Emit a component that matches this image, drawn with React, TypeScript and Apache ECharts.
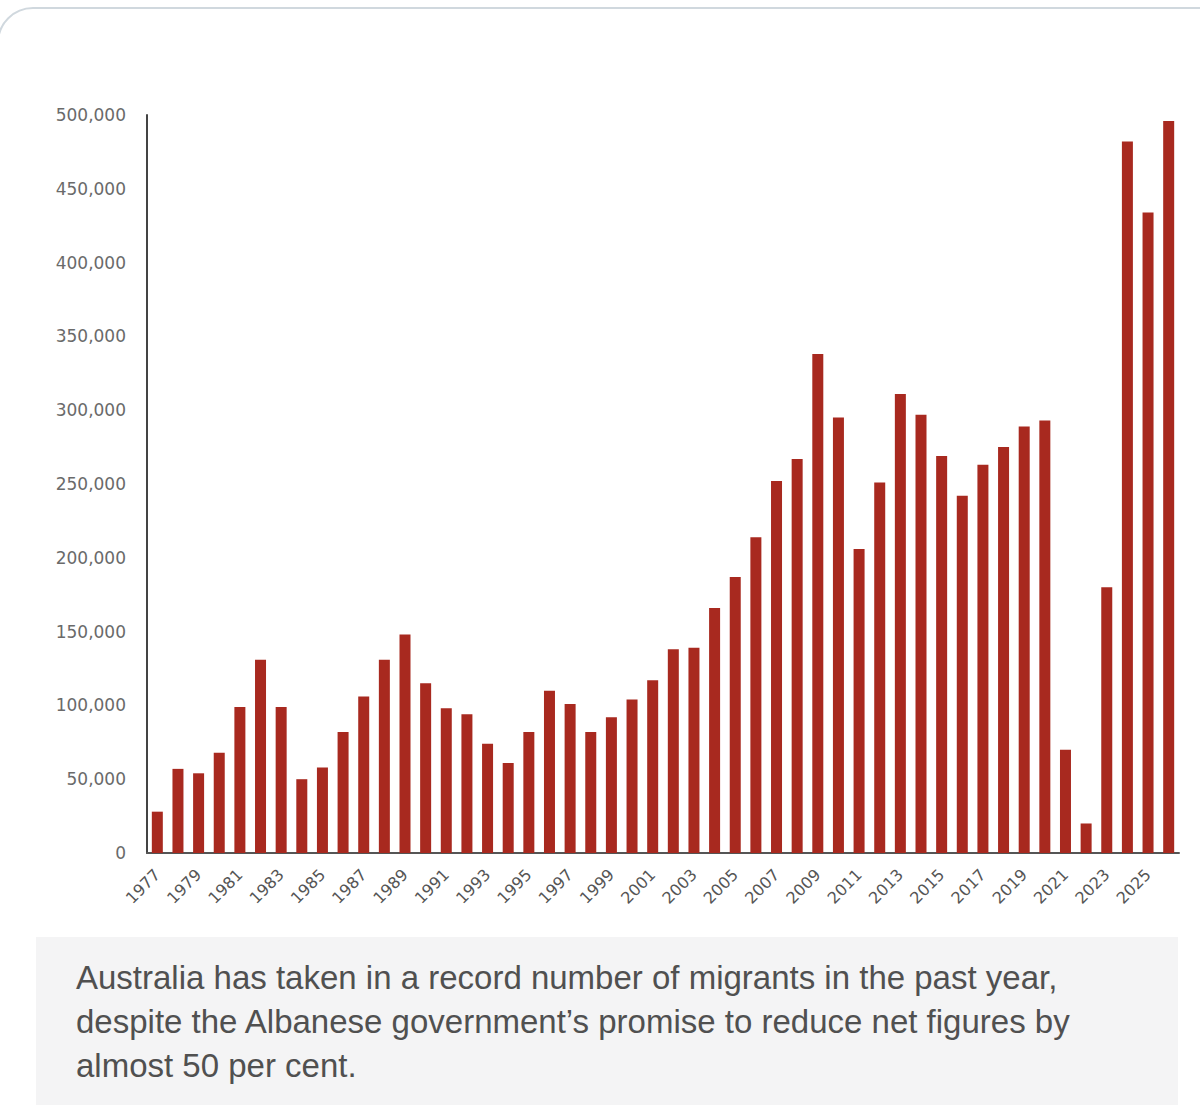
import React, { useEffect, useRef } from "react";
import * as echarts from "echarts";

const years: string[] = [
  "1977", "1978", "1979", "1980", "1981", "1982", "1983", "1984", "1985", "1986",
  "1987", "1988", "1989", "1990", "1991", "1992", "1993", "1994", "1995", "1996",
  "1997", "1998", "1999", "2000", "2001", "2002", "2003", "2004", "2005", "2006",
  "2007", "2008", "2009", "2010", "2011", "2012", "2013", "2014", "2015", "2016",
  "2017", "2018", "2019", "2020", "2021", "2022", "2023", "2024", "2025", "2026",
];

const netMigration: number[] = [
  28000, 57000, 54000, 68000, 99000, 131000, 99000, 50000, 58000, 82000,
  106000, 131000, 148000, 115000, 98000, 94000, 74000, 61000, 82000, 110000,
  101000, 82000, 92000, 104000, 117000, 138000, 139000, 166000, 187000, 214000,
  252000, 267000, 338000, 295000, 206000, 251000, 311000, 297000, 269000, 242000,
  263000, 275000, 289000, 293000, 70000, 20000, 180000, 482000, 434000, 496000,
];

const yMin = 0;
const yMax = 500000;
const yStep = 50000;

const captionLines: string[] = [
  "Australia has taken in a record number of migrants in the past year,",
  "despite the Albanese government\u2019s promise to reduce net figures by",
  "almost 50 per cent.",
];

function Chart() {
  const ref = useRef<HTMLDivElement | null>(null);
  useEffect(() => {
    if (!ref.current) return;
    const chart = echarts.init(ref.current, undefined, { renderer: "svg" });
    chart.setOption({
      animation: false,
      grid: { left: 147, top: 115, width: 1032, height: 738, containLabel: false },
      xAxis: {
        type: "category",
        data: years,
        axisLine: { show: true, lineStyle: { color: "#555", width: 2 } },
        axisTick: { show: false },
        axisLabel: {
          interval: 1,
          rotate: 45,
          margin: 19,
          fontFamily: "DejaVu Sans",
          fontSize: 16,
          color: "#555",
        },
        splitLine: { show: false },
      },
      yAxis: {
        type: "value",
        min: yMin,
        max: yMax,
        interval: yStep,
        axisLine: { show: true, lineStyle: { color: "#444", width: 2 } },
        axisTick: { show: false },
        splitLine: { show: false },
        axisLabel: {
          margin: 21,
          fontFamily: "DejaVu Sans",
          fontSize: 17,
          color: "#6a6a6a",
          formatter: (v: number) => v.toLocaleString("en-US"),
        },
      },
      series: [
        {
          type: "bar",
          data: netMigration,
          barWidth: 11,
          itemStyle: { color: "#a8291f" },
        },
      ],
    });
    return () => chart.dispose();
  }, []);
  return (
    <div
      ref={ref}
      style={{ position: "absolute", left: 0, top: 0, width: 1200, height: 930 }}
    />
  );
}

export default function App() {
  return (
    <div
      style={{
        position: "fixed",
        left: 0,
        top: 0,
        width: 1200,
        height: 1113,
        overflow: "hidden",
        background: "#fff",
      }}
    >
      <div
        style={{
          position: "absolute",
          left: -3,
          top: 7,
          width: 1300,
          height: 1300,
          border: "2px solid #d0d8de",
          borderRadius: 36,
          boxSizing: "border-box",
        }}
      />
      <Chart />
      <div
        style={{
          position: "absolute",
          left: 36,
          top: 937,
          width: 1142,
          height: 168,
          background: "#f4f4f5",
          boxSizing: "border-box",
          padding: "19px 0 0 40px",
          fontFamily: "'Liberation Sans', Arial, sans-serif",
          fontSize: 33,
          lineHeight: "44px",
          color: "#505050",
          whiteSpace: "nowrap",
        }}
      >
        {captionLines.map((l, i) => (
          <div key={i}>{l}</div>
        ))}
      </div>
    </div>
  );
}
